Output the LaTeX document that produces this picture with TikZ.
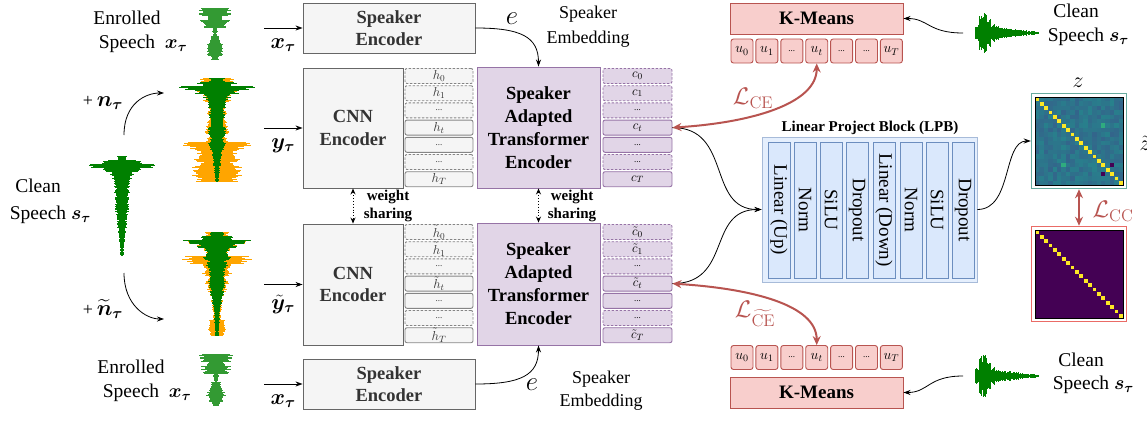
\RequirePackage{fix-cm}
\documentclass[tikz,border=0pt]{standalone}
\usepackage{amsmath,bm}
\usepackage[no-math]{fontspec}
\setmainfont{Liberation Serif}
\usetikzlibrary{arrows.meta}
\definecolor{gfill}{HTML}{F5F5F5}
\definecolor{gline}{HTML}{666666}
\definecolor{gtext}{HTML}{333333}
\definecolor{pfill}{HTML}{E1D5E7}
\definecolor{pline}{HTML}{9673A6}
\definecolor{rfill}{HTML}{F8CECC}
\definecolor{rline}{HTML}{B85450}
\definecolor{bfill}{HTML}{DAE8FC}
\definecolor{bline}{HTML}{6C8EBF}
\definecolor{wgreen}{HTML}{008000}
\definecolor{worange}{HTML}{FFA500}
\definecolor{vA}{HTML}{21918C}
\definecolor{vB}{HTML}{3B528B}
\definecolor{vP}{HTML}{440154}
\definecolor{vY}{HTML}{FDE725}
\definecolor{vG}{HTML}{35B779}
\definecolor{tealb}{HTML}{67AB9F}
\definecolor{redb}{HTML}{EA6B66}
\newcommand\fsz[2]{\fontsize{#1}{#2}\selectfont}
\newcommand\dd{{\fsz{9}{9}...}}
\newcommand\myxt{\boldsymbol{x}_{\boldsymbol{\tau}}}
\newcommand\myst{\boldsymbol{s}_{\boldsymbol{\tau}}}
\newcommand\wv[2]{%
  \foreach \w [count=\i from 0] in {#2} {%
    \foreach \k in {0,1,2,3} {%
      \pgfmathsetmacro\ww{\w*(0.68+0.32*rnd)}%
      \fill[#1] (-\ww,\i*4+\k) rectangle (\ww,\i*4+\k+1.1);%
    }%
  }%
}
\tikzset{
  box/.style={draw, line width=0.9pt, inner sep=0pt, align=center},
  graybox/.style={box, draw=gline, fill=gfill, text=gtext, font=\bfseries\fsz{18.5}{22.5}},
  purplebox/.style={box, draw=pline, fill=pfill, text=black, font=\bfseries\fsz{18.5}{23}},
  hcell/.style={box, draw=gline!80, fill=gfill, rounded corners=2pt, minimum width=68pt, minimum height=15pt, font=\fsz{13}{13}, text=gtext},
  ccell/.style={box, draw=pline, fill=pfill, rounded corners=2pt, minimum width=69pt, minimum height=15pt, font=\fsz{13}{13}},
  dcell/.style={dash pattern=on 2.5pt off 1.5pt},
  ucell/.style={box, draw=rline, fill=rfill, rounded corners=2.5pt, minimum width=22pt, minimum height=24pt, font=\fsz{14}{14}},
  redbox/.style={box, draw=rline, fill=rfill, font=\bfseries\fsz{19}{19}, minimum width=173pt, minimum height=31pt},
  colbox/.style={box, draw=bline, fill=bfill, minimum width=136pt, minimum height=22pt, font=\fsz{19}{19}, rotate=-90},
  arr/.style={-{Stealth[length=7pt,width=5pt]}, line width=0.8pt},
  redarr/.style={{Stealth[length=9pt,width=8pt]}-{Stealth[length=9pt,width=8pt]}, line width=2pt, draw=rline},
  lbl/.style={font=\fsz{19.5}{24}, align=center, inner sep=0pt},
  albl/.style={font=\fsz{22}{22}, inner sep=1pt, below=9pt, midway},
  wlbl/.style={font=\bfseries\fsz{15}{18}, align=center, inner sep=0pt},
  mathlbl/.style={font=\fsz{24}{24}, inner sep=0pt},
}
\begin{document}
\begin{tikzpicture}[x=1pt,y=-1pt]
\useasboundingbox (0,0) rectangle (1147,420);
\pgfmathsetseed{7}

% ---------- waveforms ----------
\begin{scope}[shift={(122,156)}]
\wv{wgreen}{5,20,36,22,14,11,9,8,7,8,7,7,8,7,6,6,5,5,4,4,3,3,2.5,2,2}
\end{scope}
\begin{scope}[shift={(217,78)}]
\wv{worange}{18,18,30,20,15,15,10,9,10,10,9,10,13,13,10,12,37,30,20,22,25,18,25,25,26,22}
\wv{wgreen}{8,20,38,22,14,12,10,9,8,9,8,7,9,10,8,7,10,8,6,5,4,4,3,3,2.5,2}
\end{scope}
\begin{scope}[shift={(217,232)}]
\wv{worange}{12,12,30,20,14,12,37,30,15,12,15,10,12,10,10,8,6,6,5,5,4,4,10,10,10,8}
\wv{wgreen}{8,20,38,22,14,12,15,10,12,8,9,8,9,8,7,7,6,5,4,4,3,3,3,2.5,2,2}
\end{scope}
\begin{scope}[shift={(215,8)}]
\wv{wgreen!80!white}{17,17,9,16,13,3,2,5,7,9,10,8,4}
\end{scope}
\begin{scope}[shift={(216,354)}]
\wv{wgreen!80!white}{17,17,9,16,13,3,2,5,7,9,10,8,4}
\end{scope}
\begin{scope}[shift={(975,33)}, x={(0pt,1pt)}, y={(1pt,0pt)}]
\wv{wgreen}{8,20,22,14,9,7,6,5,5,4,4,3,3,2,2,1.5}
\end{scope}
\begin{scope}[shift={(975,376)}, x={(0pt,1pt)}, y={(1pt,0pt)}]
\wv{wgreen}{8,20,22,14,9,7,6,5,5,4,4,3,3,2,2,1.5}
\end{scope}

% ---------- left labels ----------
\node[lbl] (enr1) at (127,31.5) {Enrolled\\Speech\rlap{\ \ $\myxt$}};
\node[lbl] (enr2) at (131,380.5) {Enrolled\\Speech\rlap{\ \ $\myxt$}};
\node[lbl, font=\fsz{19.5}{27}] (cl) at (38,201.5) {Clean\\Speech\rlap{\ $\myst$}};
\node[inner sep=0pt, font=\fsz{22}{22}] (nt1) at (103,103) {{\fsz{18}{18}+}\,$\boldsymbol{n}_{\boldsymbol{\tau}}$};
\node[inner sep=0pt, font=\fsz{22}{22}] (nt2) at (103,309) {{\fsz{18}{18}+}\,$\widetilde{\boldsymbol{n}}_{\boldsymbol{\tau}}$};
\coordinate (n1s) at (124,135);
\coordinate (n1e) at (164,93);
\coordinate (n2s) at (124,273);
\coordinate (n2e) at (164,319);
\draw[arr] (n1s) .. controls +(0,-32) and +(-18,0) .. (n1e);
\draw[arr] (n2s) .. controls +(0,32) and +(-18,0) .. (n2e);

% ---------- boxes ----------
\node[graybox, minimum width=172pt, minimum height=50pt] (se1) at (389,28) {Speaker\\Encoder};
\node[graybox, minimum width=100pt, minimum height=120pt] (cnn1) at (353,128) {CNN\\Encoder};
\node[purplebox, minimum width=123pt, minimum height=121pt] (sa1) at (538.5,127.5) {Speaker\\Adapted\\Transformer\\Encoder};
\node[graybox, minimum width=100pt, minimum height=121pt] (cnn2) at (353,284.5) {CNN\\Encoder};
\node[purplebox, minimum width=123pt, minimum height=122pt] (sa2) at (538.5,284) {Speaker\\Adapted\\Transformer\\Encoder};
\node[graybox, minimum width=172pt, minimum height=50pt] (se2) at (389,384) {Speaker\\Encoder};

\node[hcell,dcell] (ha0) at (439,76) {$h_0$};
\node[hcell,dcell] (ha1) at (439,93.2) {$h_1$};
\node[hcell,dcell] (ha2) at (439,110.4) {\dd};
\node[hcell] (ha3) at (439,127.6) {$h_t$};
\node[hcell] (ha4) at (439,144.8) {\dd};
\node[hcell,dcell] (ha5) at (439,162) {\dd};
\node[hcell] (ha6) at (439,179.2) {$h_T$};
\node[hcell,dcell] (hb0) at (439,232) {$\tilde{h}_0$};
\node[hcell,dcell] (hb1) at (439,249.2) {$\tilde{h}_1$};
\node[hcell,dcell] (hb2) at (439,266.4) {\dd};
\node[hcell] (hb3) at (439,283.6) {$\tilde{h}_t$};
\node[hcell] (hb4) at (439,300.8) {\dd};
\node[hcell,dcell] (hb5) at (439,318) {\dd};
\node[hcell] (hb6) at (439,335.2) {$\tilde{h}_T$};
\node[ccell,dcell] (ca0) at (637.5,76) {$c_0$};
\node[ccell,dcell] (ca1) at (637.5,93.2) {$c_1$};
\node[ccell,dcell] (ca2) at (637.5,110.4) {\dd};
\node[ccell] (ca3) at (637.5,127.6) {$c_t$};
\node[ccell] (ca4) at (637.5,144.8) {\dd};
\node[ccell,dcell] (ca5) at (637.5,162) {\dd};
\node[ccell] (ca6) at (637.5,179.2) {$c_T$};
\node[ccell,dcell] (cb0) at (637.5,232) {$\tilde{c}_0$};
\node[ccell,dcell] (cb1) at (637.5,249.2) {$\tilde{c}_1$};
\node[ccell,dcell] (cb2) at (637.5,266.4) {\dd};
\node[ccell] (cb3) at (637.5,283.6) {$\tilde{c}_t$};
\node[ccell] (cb4) at (637.5,300.8) {\dd};
\node[ccell,dcell] (cb5) at (637.5,318) {\dd};
\node[ccell] (cb6) at (637.5,335.2) {$\tilde{c}_T$};

\coordinate (xa1) at (264,28);
\coordinate (ya1) at (264,128);
\coordinate (ya2) at (264,284.5);
\coordinate (xa2) at (264,384);
\draw[arr] (xa1) -- (se1.west) node[albl] {$\myxt$};
\draw[arr] (ya1) -- (cnn1.west) node[albl] {$\boldsymbol{y}_{\boldsymbol{\tau}}$};
\draw[arr] (ya2) -- (cnn2.west) node[albl] {$\tilde{\boldsymbol{y}}_{\boldsymbol{\tau}}$};
\draw[arr] (xa2) -- (se2.west) node[albl] {$\myxt$};

\draw[arr] (se1.east) .. controls +(45,0) and +(0,-30) .. (sa1.north);
\draw[arr] (se2.east) .. controls +(45,0) and +(0,30) .. (sa2.south);
\node[inner sep=0pt, font=\fsz{27}{27}] (e1) at (512,19) {$e$};
\node[inner sep=0pt, font=\fsz{27}{27}] (e2) at (532,385) {$e$};
\node[lbl, font=\fsz{18}{25}] (emb1) at (588,27) {Speaker\\Embedding};
\node[lbl, font=\fsz{18}{23}] (emb2) at (601,391) {Speaker\\Embedding};

\draw[dotted, line width=0.9pt, {Stealth[length=6pt,width=5pt]}-{Stealth[length=6pt,width=5pt]}] (cnn1.south) -- (cnn2.north);
\draw[dotted, line width=0.9pt, {Stealth[length=6pt,width=5pt]}-{Stealth[length=6pt,width=5pt]}] (sa1.south) -- (sa2.north);
\node[wlbl] (ws1) at (388,206) {weight\\sharing};
\node[wlbl] (ws2) at (572,206) {weight\\sharing};

\node[redbox] (km1) at (816.5,18.5) {K-Means};
\node[redbox] (km2) at (816.5,392.5) {K-Means};
\node[ucell] (ua0) at (742,51) {$u_0$};
\node[ucell] (ua1) at (766.9,51) {$u_1$};
\node[ucell] (ua2) at (791.8,51) {\dd};
\node[ucell] (ua3) at (816.7,51) {$u_t$};
\node[ucell] (ua4) at (841.6,51) {\dd};
\node[ucell] (ua5) at (866.5,51) {\dd};
\node[ucell] (ua6) at (891.4,51) {$u_T$};
\node[ucell] (ub0) at (742,357.5) {$u_0$};
\node[ucell] (ub1) at (766.9,357.5) {$u_1$};
\node[ucell] (ub2) at (791.8,357.5) {\dd};
\node[ucell] (ub3) at (816.7,357.5) {$u_t$};
\node[ucell] (ub4) at (841.6,357.5) {\dd};
\node[ucell] (ub5) at (866.5,357.5) {\dd};
\node[ucell] (ub6) at (891.4,357.5) {$u_T$};

\node[lbl] (cr1) at (1076,25) {Clean\\Speech\rlap{\ $\myst$}};
\node[lbl, font=\fsz{19.5}{23}] (cr2) at (1081,373.5) {Clean\\Speech\rlap{\ $\myst$}};
\coordinate (wr1) at (963,33);
\coordinate (wr2) at (963,376);
\draw[arr] (wr1) .. controls +(-35,0) and +(25,0) .. (km1.east);
\draw[arr] (wr2) .. controls +(-35,0) and +(25,0) .. (km2.east);

\node[box, draw=bline!60, fill=bfill!70, minimum width=215pt, minimum height=145pt] (lpb) at (869.5,209.5) {};
\node[wlbl] (lpbt) at (870,128) {Linear Project Block (LPB)};
\node[colbox] (l1) at (779,210) {Linear (Up)};
\node[colbox] (l2) at (805,210) {Norm};
\node[colbox] (l3) at (831,210) {SiLU};
\node[colbox] (l4) at (857,210) {Dropout};
\node[colbox] (l5) at (884,210) {Linear (Down)};
\node[colbox] (l6) at (911,210) {Norm};
\node[colbox] (l7) at (937,210) {SiLU};
\node[colbox] (l8) at (963,210) {Dropout};

\fill[vB] (1035,97) rectangle (1123,185);
\foreach \r in {0,...,19}{\foreach \c in {0,...,19}{%
  \pgfmathsetmacro\p{int(30+45*rnd)}%
  \fill[vA!\p!vB] ({1035+4.4*\c},{97+4.4*\r}) rectangle ++(4.45,4.45);%
}}
\fill[vP] ({1035+4.4*17},{97+4.4*15}) rectangle ++(4.4,4.4);
\fill[vP] ({1035+4.4*15},{97+4.4*17}) rectangle ++(4.4,4.4);
\fill[vG!70!vA] ({1035+4.4*15},{97+4.4*6}) rectangle ++(4.4,4.4);
\fill[vG!70!vA] ({1035+4.4*6},{97+4.4*15}) rectangle ++(4.4,4.4);
\foreach \i in {0,...,19} \fill[vY] ({1035+4.4*\i+0.3},{97+4.4*\i+0.3}) rectangle ++(3.8,3.8);
\draw[black, line width=1pt] (1035,97) rectangle (1123,185);
\node[draw=tealb, line width=1.5pt, minimum size=95pt, inner sep=0pt] (mz) at (1079,141) {};

\fill[vP] (1035,230) rectangle (1123,318);
\foreach \i in {0,...,19} \fill[vY] ({1035+4.4*\i+0.3},{230+4.4*\i+0.3}) rectangle ++(3.8,3.8);
\draw[black, line width=1pt] (1035,230) rectangle (1123,318);
\node[draw=redb, line width=1.5pt, minimum size=95pt, inner sep=0pt] (mzt) at (1079,274) {};

\node[inner sep=0pt, font=\fsz{22}{22}] (zl) at (1078,83) {$z$};
\node[inner sep=0pt, font=\fsz{22}{22}] (ztl) at (1145,143) {$\tilde{z}$};

\draw[arr] (ca3.east) .. controls +(60,0) and +(-55,0) .. (lpb.west);
\draw[arr] (cb3.east) .. controls +(60,0) and +(-55,0) .. (lpb.west);
\draw[arr] (lpb.east) .. controls +(35,0) and +(-28,0) .. (mz.west);

\draw[redarr] (ca3.east) .. controls +(80,-5) and +(0,40) .. (ua3.south);
\draw[redarr] (cb3.east) .. controls +(80,5) and +(0,-40) .. (ub3.north);
\draw[redarr] (mz.south) -- (mzt.north);
\node[mathlbl, text=rline] (lce1) at (753,98) {$\mathcal{L}_{\mathrm{CE}}$};
\node[mathlbl, text=rline] (lce2) at (755,314) {$\mathcal{L}_{\widetilde{\mathrm{CE}}}$};
\node[mathlbl, text=rline] (lcc) at (1113,211) {$\mathcal{L}_{\mathrm{CC}}$};
\end{tikzpicture}
\end{document}
